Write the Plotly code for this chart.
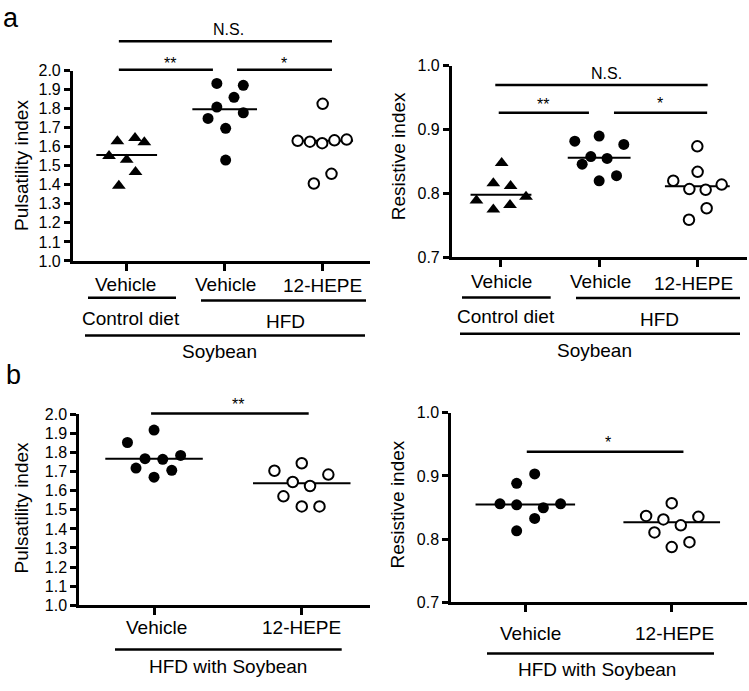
import plotly.graph_objects as go

W, H = 749, 691
FONT = "Arial, 'Liberation Sans', sans-serif"

# ---------------- data ----------------
pi_ticks = [1.0, 1.1, 1.2, 1.3, 1.4, 1.5, 1.6, 1.7, 1.8, 1.9, 2.0]
ri_ticks = [0.7, 0.8, 0.9, 1.0]

a_labels = ["Vehicle", "Vehicle", "12-HEPE"]
b_labels = ["Vehicle", "12-HEPE"]

# Panel a – Pulsatility index
a_pi_ctrl_vehicle = [1.552, 1.629, 1.532, 1.646, 1.624, 1.467, 1.395]
a_pi_ctrl_vehicle_off = [-0.18, -0.095, 0.0, 0.085, 0.18, 0.09, -0.08]
a_pi_hfd_vehicle = [1.933, 1.923, 1.860, 1.809, 1.749, 1.779, 1.697, 1.530]
a_pi_hfd_vehicle_off = [-0.08, 0.19, 0.095, -0.08, -0.17, 0.19, 0.01, 0.01]
a_pi_hfd_hepe = [1.826, 1.632, 1.627, 1.619, 1.634, 1.638, 1.407, 1.458]
a_pi_hfd_hepe_off = [0.0, -0.255, -0.13, -0.005, 0.12, 0.245, -0.09, 0.09]
a_pi_means = [1.557, 1.797, 1.632]

# Panel a – Resistive index
a_ri_ctrl_vehicle = [0.848, 0.816, 0.812, 0.789, 0.775, 0.782, 0.795]
a_ri_ctrl_vehicle_off = [0.007, -0.078, 0.098, -0.25, -0.078, 0.092, 0.255]
a_ri_hfd_vehicle = [0.882, 0.890, 0.877, 0.858, 0.855, 0.846, 0.828, 0.820]
a_ri_hfd_vehicle_off = [-0.248, 0.0, 0.251, -0.085, 0.081, -0.173, 0.177, 0.0]
a_ri_hfd_hepe = [0.874, 0.834, 0.820, 0.807, 0.806, 0.814, 0.777, 0.759]
a_ri_hfd_hepe_off = [0.0, 0.003, -0.245, -0.081, 0.085, 0.248, 0.095, -0.085]
a_ri_means = [0.798, 0.856, 0.8115]

# Panel b – Pulsatility index
b_pi_vehicle = [1.853, 1.918, 1.768, 1.765, 1.785, 1.719, 1.707, 1.671]
b_pi_vehicle_off = [-0.18, 0.0, -0.061, 0.059, 0.18, -0.122, 0.12, 0.0]
b_pi_hepe = [1.744, 1.705, 1.685, 1.646, 1.625, 1.571, 1.518, 1.518]
b_pi_hepe_off = [0.0, -0.185, 0.18, -0.061, 0.056, -0.124, 0.0, 0.12]
b_pi_means = [1.768, 1.639]

# Panel b – Resistive index
b_ri_vehicle = [0.9032, 0.8883, 0.8559, 0.8543, 0.8559, 0.8497, 0.8327, 0.8132]
b_ri_vehicle_off = [0.064, -0.059, -0.173, -0.059, 0.241, 0.123, 0.064, -0.059]
b_ri_hepe = [0.8569, 0.8368, 0.8312, 0.8353, 0.8219, 0.8106, 0.7952, 0.7874]
b_ri_hepe_off = [0.0, -0.175, -0.057, 0.182, 0.062, -0.118, 0.121, 0.0]
b_ri_means = [0.8549, 0.8266]

# significance brackets: (x from, x to, y, label, label x, label y)
a_pi_sig = [(-0.08, 2.095, 2.155, "N.S.", 1.044, 2.217),
            (-0.08, 0.88, 2.005, "**", 0.44, 2.04),
            (1.126, 2.095, 2.005, "*", 1.605, 2.04)]
a_ri_sig = [(-0.058, 2.105, 0.970, "N.S.", 1.072, 0.9887),
            (-0.023, 0.896, 0.9267, "**", 0.423, 0.940),
            (1.151, 2.10, 0.9267, "*", 1.622, 0.941)]
b_pi_sig = [(-0.02, 1.047, 2.005, "**", 0.569, 2.05)]
b_ri_sig = [(0.01, 1.08, 0.9382, "*", 0.564, 0.9537)]

# ---------------- layout geometry (pixels) ----------------
panels = {
    "a_pi": dict(ax="", xd=(72.7, 370), yd=(64.3, 259.3), xr=(-0.551, 2.483), yr=(1.0, 2.0),
                 ticks=pi_ticks, ncat=3, title="Pulsatility index", tpos=(21, 162)),
    "a_ri": dict(ax="2", xd=(451.7, 746.7), yd=(59.3, 255.7), xr=(-0.502, 2.503), yr=(0.7, 1.0),
                 ticks=ri_ticks, ncat=3, title="Resistive index", tpos=(398, 152)),
    "b_pi": dict(ax="3", xd=(79, 370), yd=(416.7, 612.3), xr=(-0.508, 1.462), yr=(1.0, 2.0),
                 ticks=pi_ticks, ncat=2, title="Pulsatility index", tpos=(21, 513)),
    "b_ri": dict(ax="4", xd=(451, 746.7), yd=(415, 609.3), xr=(-0.5075, 1.512), yr=(0.7, 1.0),
                 ticks=ri_ticks, ncat=2, title="Resistive index", tpos=(397, 509)),
}


def pxx(p):
    return p / W


def pxy(p):
    return 1 - p / H


def data_to_paper(panel, x, y):
    P = panels[panel]
    x0, x1 = pxx(P["xd"][0]), pxx(P["xd"][1])
    y0, y1 = pxy(P["yd"][1]), pxy(P["yd"][0])
    fx = (x - P["xr"][0]) / (P["xr"][1] - P["xr"][0])
    fy = (y - P["yr"][0]) / (P["yr"][1] - P["yr"][0])
    return x0 + fx * (x1 - x0), y0 + fy * (y1 - y0)


fig = go.Figure()
LW = 2.5

# axes
layout_axes = {}
for key, P in panels.items():
    ax = P["ax"]
    layout_axes["xaxis" + ax] = dict(
        domain=[pxx(P["xd"][0]), pxx(P["xd"][1])], range=list(P["xr"]),
        anchor="y" + ax, showline=True, linecolor="black", linewidth=LW,
        ticks="outside", ticklen=7, tickwidth=LW, tickcolor="black",
        tickvals=list(range(P["ncat"])), showticklabels=False,
        showgrid=False, zeroline=False, fixedrange=True)
    layout_axes["yaxis" + ax] = dict(
        domain=[pxy(P["yd"][1]), pxy(P["yd"][0])], range=list(P["yr"]),
        anchor="x" + ax, showline=True, linecolor="black", linewidth=LW,
        ticks="outside", ticklen=6, tickwidth=LW, tickcolor="black",
        tickvals=P["ticks"], ticktext=[f"{t:.1f}" for t in P["ticks"]],
        tickfont=dict(family=FONT, size=16, color="black"),
        showgrid=False, zeroline=False, fixedrange=True)

TRI = dict(symbol="triangle-up", size=12, color="black")
DOT = dict(symbol="circle", size=11, color="black")
OPEN = dict(symbol="circle", size=10.5, color="white", line=dict(color="black", width=2))


def add_group(panel, idx, vals, offs, marker, mean, half):
    ax = panels[panel]["ax"]
    fig.add_trace(go.Scatter(x=[idx - half, idx + half], y=[mean, mean], mode="lines",
                             line=dict(color="black", width=2), xaxis="x" + ax, yaxis="y" + ax,
                             showlegend=False, hoverinfo="skip"))
    fig.add_trace(go.Scatter(x=[idx + o for o in offs], y=vals, mode="markers", marker=marker,
                             xaxis="x" + ax, yaxis="y" + ax, showlegend=False, cliponaxis=False))


add_group("a_pi", 0, a_pi_ctrl_vehicle, a_pi_ctrl_vehicle_off, TRI, a_pi_means[0], 0.31)
add_group("a_pi", 1, a_pi_hfd_vehicle, a_pi_hfd_vehicle_off, DOT, a_pi_means[1], 0.33)
add_group("a_pi", 2, a_pi_hfd_hepe, a_pi_hfd_hepe_off, OPEN, a_pi_means[2], 0.31)

add_group("a_ri", 0, a_ri_ctrl_vehicle, a_ri_ctrl_vehicle_off, TRI, a_ri_means[0], 0.31)
add_group("a_ri", 1, a_ri_hfd_vehicle, a_ri_hfd_vehicle_off, DOT, a_ri_means[1], 0.32)
add_group("a_ri", 2, a_ri_hfd_hepe, a_ri_hfd_hepe_off, OPEN, a_ri_means[2], 0.33)

add_group("b_pi", 0, b_pi_vehicle, b_pi_vehicle_off, DOT, b_pi_means[0], 0.33)
add_group("b_pi", 1, b_pi_hepe, b_pi_hepe_off, OPEN, b_pi_means[1], 0.33)

add_group("b_ri", 0, b_ri_vehicle, b_ri_vehicle_off, DOT, b_ri_means[0], 0.34)
add_group("b_ri", 1, b_ri_hepe, b_ri_hepe_off, OPEN, b_ri_means[1], 0.33)

shapes = []
annotations = []


def text(x, y, s, size=19, angle=0):
    annotations.append(dict(x=x, y=y, xref="paper", yref="paper", text=s, showarrow=False,
                            xanchor="center", yanchor="middle", textangle=angle,
                            font=dict(family=FONT, size=size, color="black")))


def hline(x0, x1, y, width=LW):
    shapes.append(dict(type="line", xref="paper", yref="paper", x0=x0, x1=x1, y0=y, y1=y,
                       line=dict(color="black", width=width)))


# significance brackets (data units -> paper)
for panel, sig in [("a_pi", a_pi_sig), ("a_ri", a_ri_sig), ("b_pi", b_pi_sig), ("b_ri", b_ri_sig)]:
    for (u0, u1, v, lab, lu, lv) in sig:
        px0, py = data_to_paper(panel, u0, v)
        px1, _ = data_to_paper(panel, u1, v)
        hline(px0, px1, py)
        tx, ty = data_to_paper(panel, lu, lv)
        text(tx, ty, lab, size=16)

# y axis titles
for key, P in panels.items():
    text(pxx(P["tpos"][0]), pxy(P["tpos"][1]), P["title"], size=19, angle=-90)

# category labels and group lines (pixel layout)
# panel a, left
text(pxx(125.5), pxy(283), a_labels[0])
text(pxx(225.8), pxy(283), a_labels[1])
text(pxx(322), pxy(284), a_labels[2])
hline(pxx(88), pxx(176), pxy(297))
hline(pxx(201), pxx(366), pxy(300))
text(pxx(131.3), pxy(318.3), "Control diet")
text(pxx(285.7), pxy(321.7), "HFD")
hline(pxx(85), pxx(365), pxy(335.7))
text(pxx(219), pxy(352), "Soybean")
# panel a, right
text(pxx(501.2), pxy(280.5), a_labels[0])
text(pxx(600.8), pxy(280.5), a_labels[1])
text(pxx(693.5), pxy(282.3), a_labels[2])
hline(pxx(462), pxx(550.7), pxy(296.7))
hline(pxx(576), pxx(740), pxy(297.3))
text(pxx(505.8), pxy(316.5), "Control diet")
text(pxx(659.2), pxy(319.5), "HFD")
hline(pxx(460), pxx(740), pxy(334))
text(pxx(594), pxy(350.7), "Soybean")
# panel b, left
text(pxx(156.3), pxy(635), b_labels[0])
text(pxx(301.3), pxy(635), b_labels[1])
hline(pxx(115), pxx(341.7), pxy(657.7))
text(pxx(228.3), pxy(675), "HFD with Soybean")
# panel b, right
text(pxx(530.5), pxy(641), b_labels[0])
text(pxx(674.7), pxy(641), b_labels[1])
hline(pxx(487), pxx(714), pxy(661.7))
text(pxx(596.5), pxy(678.3), "HFD with Soybean")

# panel letters
text(pxx(11), pxy(10), "a", size=27)
text(pxx(13), pxy(376), "b", size=27)

fig.update_layout(
    width=W, height=H, margin=dict(l=0, r=0, t=0, b=0),
    paper_bgcolor="white", plot_bgcolor="white",
    font=dict(family=FONT, color="black"),
    shapes=shapes, annotations=annotations, showlegend=False,
    **layout_axes)

fig.write_html(
    "out.html",
    config={"responsive": False, "displayModeBar": False},
    post_script="document.body.style.margin='0';document.body.style.overflow='hidden';"
                "document.documentElement.style.overflow='hidden';",
)
